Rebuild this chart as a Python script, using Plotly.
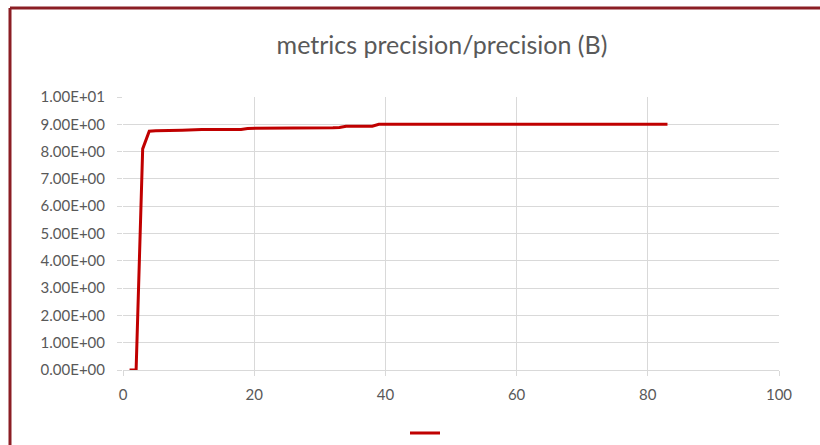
import plotly.graph_objects as go

epochs = list(range(1, 84))
precision_values = (
    [0.0, 0.0, 8.1, 8.75, 8.76, 8.76, 8.77, 8.77, 8.78, 8.79]
    + [8.81] * 8
    + [8.85] * 7
    + [8.87] * 7
    + [8.88]
    + [8.93] * 5
    + [9.0] * 45
)

y_tick_vals = [0, 1, 2, 3, 4, 5, 6, 7, 8, 9, 10]
y_tick_text = ["0.00E+00", "1.00E+00", "2.00E+00", "3.00E+00", "4.00E+00",
               "5.00E+00", "6.00E+00", "7.00E+00", "8.00E+00", "9.00E+00", "1.00E+01"]
x_tick_vals = [0, 20, 40, 60, 80, 100]
x_tick_text = ["0", "20", "40", "60", "80", "100"]

title_text = "metrics precision/precision (B)"

# body margin removed by post_script, so figure pixel coords = screen coords
L, R, T, B = 123, 779, 97, 370
W, H = 820, 445
PW, PH = R - L, B - T

fig = go.Figure()
fig.add_trace(go.Scatter(
    x=epochs, y=precision_values, mode="lines", name="",
    line=dict(color="#C00000", width=3),
    showlegend=True,
))

grid = "#d9d9d9"
txt = "#595959"
font_family = "Lato, 'Open Sans', sans-serif"

def px_x(sx):
    return (sx - L) / PW

def px_y(sy):
    return (B - sy) / PH

fig.update_layout(
    width=W, height=H,
    paper_bgcolor="white", plot_bgcolor="white",
    margin=dict(l=L, r=W - R, t=T, b=H - B),
    title=dict(text=title_text, x=442 / W, xanchor="center",
               y=1 - 45 / H, yanchor="middle", yref="container",
               font=dict(family=font_family, size=25, color=txt)),
    xaxis=dict(range=[0, 100], tickvals=x_tick_vals, ticktext=x_tick_text,
               showgrid=True, gridcolor=grid, gridwidth=1.3,
               showline=True, linecolor=grid, linewidth=1.3,
               ticks="outside", ticklen=5, tickcolor=grid, tickwidth=1.3,
               zeroline=False, ticklabelstandoff=6,
               tickfont=dict(family=font_family, size=15, color=txt)),
    yaxis=dict(range=[0, 10], tickvals=y_tick_vals, ticktext=y_tick_text,
               showgrid=True, gridcolor=grid, gridwidth=1.3,
               showline=False, zeroline=False,
               ticks="outside", ticklen=5, tickcolor=grid, tickwidth=1.3,
               ticklabelstandoff=9,
               tickfont=dict(family=font_family, size=15, color=txt)),
    legend=dict(orientation="h", x=px_x(405), xanchor="left",
                y=1 - 433 / H, yref="container", yanchor="middle",
                font=dict(family=font_family, size=12, color=txt),
                bgcolor="rgba(0,0,0,0)"),
    shapes=[
        dict(type="line", xref="paper", yref="paper",
             x0=px_x(10), x1=px_x(10),
             y0=px_y(8), y1=px_y(470),
             line=dict(color="#8B1E24", width=3)),
        dict(type="line", xref="paper", yref="paper",
             x0=px_x(10), x1=px_x(840),
             y0=px_y(8), y1=px_y(8),
             line=dict(color="#8B1E24", width=3)),
    ],
)

fig.write_html(
    "out.html",
    config={"displayModeBar": False},
    post_script="document.body.style.margin='0';document.body.style.overflow='hidden';",
)
